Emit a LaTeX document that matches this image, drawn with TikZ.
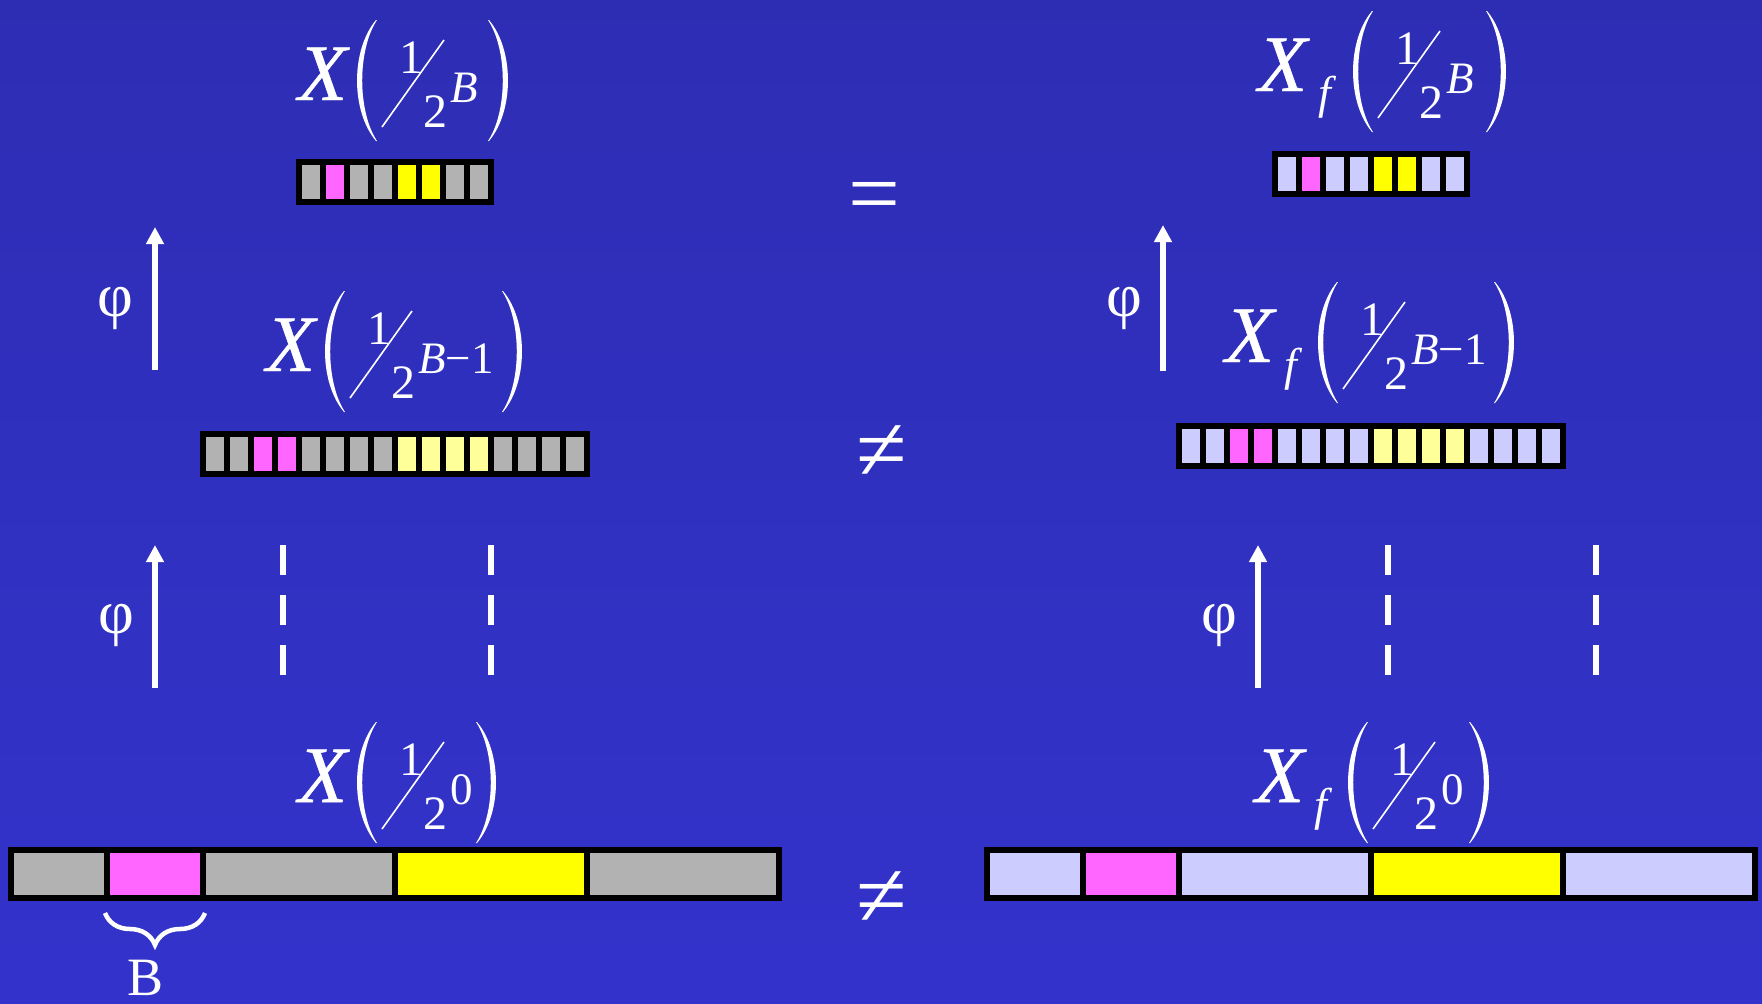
\documentclass[tikz,border=0pt]{standalone}
\usepackage{fontspec}
\setmainfont{Liberation Serif}
\usetikzlibrary{arrows.meta,decorations.pathreplacing,calc}
\definecolor{bgtop}{RGB}{45,45,180}
\definecolor{bgbot}{RGB}{51,51,204}
\definecolor{cgray}{RGB}{178,178,178}
\definecolor{cpink}{RGB}{255,102,255}
\definecolor{cyel}{RGB}{255,255,0}
\definecolor{clyel}{RGB}{255,255,153}
\definecolor{clav}{RGB}{204,204,255}
\tikzset{
  fx/.style={text=white, inner sep=0pt, font=\fontsize{80}{82}\selectfont\itshape\addfontfeatures{FakeBold=0.6}},
  fs/.style={text=white, inner sep=0pt, font=\fontsize{48}{50}\selectfont},
  fe/.style={text=white, inner sep=0pt, font=\fontsize{45}{47}\selectfont},
  fsi/.style={text=white, inner sep=0pt, font=\fontsize{46}{48}\selectfont\itshape},
  lbl/.style={text=white, inner sep=0pt, font=\fontsize{54}{56}\selectfont},
  philbl/.style={text=white, inner sep=0pt, font=\fontsize{62}{64}\selectfont},
  rel/.style={text=white, inner sep=0pt, font=\fontsize{92}{94}\selectfont},
  uparrow/.style={draw=white, line width=6pt, -{Triangle[length=17pt,width=17pt]}},
  dashline/.style={draw=white, line width=6pt, dash pattern=on 30pt off 20pt},
  slashline/.style={draw=white, line width=1.6pt},
  barbox/.style={fill=black, inner sep=0pt, outer sep=0pt, anchor=north west},
  bracestyle/.style={draw=white, line width=4.5pt, decorate, decoration={brace, amplitude=32pt}},
}
% unit bar: name, x, y, n, colours
\newcommand{\unitbar}[5]{%
  \node[barbox, minimum width={#4*24+6}, minimum height=46] (#1) at (#2,#3) {};
  \foreach \cc [count=\ii from 0] in {#5}
    \fill[\cc] ({#2+6+\ii*24},{#3+6}) rectangle ({#2+(\ii+1)*24},{#3+40});
}
% big bar: name, x, y, base colour
\newcommand{\bigbar}[4]{%
  \node[barbox, minimum width=774, minimum height=54] (#1) at (#2,#3) {};
  \foreach \ss/\ww/\cc in {0/1/#4,1/1/cpink,2/2/#4,4/2/cyel,6/2/#4}
    \fill[\cc] ({#2+6+\ss*96},{#3+6}) rectangle ({#2+(\ss+\ww)*96},{#3+48});
}
% formula: name, x, y (baseline), shift, exponent, right paren offset
\newcommand{\fracformula}[6]{%
  \begin{scope}[shift={(#2,#3)}]
    \node[fx, anchor=base west] (#1X) at (3,0) {X};
    \begin{scope}[shift={(#4,0)}]
      \fill[white] (81,-80) .. controls (55.7,-50) and (55.7,11) .. (81,41) -- (82,41)
        .. controls (62.3,11) and (62.3,-50) .. (82,-80) -- cycle;
      \node[fs, anchor=base] (#1num) at (116,-27) {1};
      \coordinate (#1sa) at (87,27);
      \coordinate (#1sb) at (149,-60);
      \draw[slashline] (#1sa) -- (#1sb);
      \node[fs, anchor=base] (#1den) at (140.5,27) {2};
      \node[fe, anchor=base west] (#1exp) at (155,2) {#5};
      \fill[white] (#6,-80) .. controls ({#6+25.3},-50) and ({#6+25.3},11) .. (#6,41) -- ({#6-1},41)
        .. controls ({#6+18.7},11) and ({#6+18.7},-50) .. ({#6-1},-80) -- cycle;
    \end{scope}
  \end{scope}}
\begin{document}
\begin{tikzpicture}[x=1pt,y=-1pt]
\useasboundingbox (0,0) rectangle (1762,1004);
\shade[top color=bgtop,bottom color=bgbot] (0,0) rectangle (1762,1004);

% formulas
\fracformula{TL}{295}{100}{0}{\textit{B}}{194}
\fracformula{TR}{1255}{91}{36}{\textit{B}}{196}
\node[fsi, anchor=base west] (TRf) at (1318,108) {f};
\fracformula{ML}{263}{371}{0}{\textit{B}−1}{240}
\fracformula{MR}{1222}{362}{34}{\textit{B}−1}{239}
\node[fsi, anchor=base west] (MRf) at (1284,380) {f};
\fracformula{BL}{295}{802}{0}{0}{182}
\fracformula{BR}{1252}{802}{34}{0}{184}
\node[fsi, anchor=base west] (BRf) at (1314,820) {f};

% bars
\unitbar{barTL}{296}{159}{8}{cgray,cpink,cgray,cgray,cyel,cyel,cgray,cgray}
\unitbar{barTR}{1272}{151}{8}{clav,cpink,clav,clav,cyel,cyel,clav,clav}
\unitbar{barML}{200}{431}{16}{cgray,cgray,cpink,cpink,cgray,cgray,cgray,cgray,clyel,clyel,clyel,clyel,cgray,cgray,cgray,cgray}
\unitbar{barMR}{1176}{423}{16}{clav,clav,cpink,cpink,clav,clav,clav,clav,clyel,clyel,clyel,clyel,clav,clav,clav,clav}
\bigbar{barBL}{8}{847}{cgray}
\bigbar{barBR}{984}{847}{clav}

% relations
\node[rel, anchor=base] (eqTop) at (874,224) {=};
\node[rel, anchor=base] (neqMid) at (882,480) {≠};
\node[rel, anchor=base] (neqBot) at (882,926) {≠};

% phi arrows
\coordinate (aL1s) at (155,370); \coordinate (aL1e) at (155,227);
\coordinate (aR1s) at (1163,371); \coordinate (aR1e) at (1163,225);
\coordinate (aL2s) at (155,688); \coordinate (aL2e) at (155,545);
\coordinate (aR2s) at (1258,688); \coordinate (aR2e) at (1258,545);
\draw[uparrow] (aL1s) -- (aL1e);
\draw[uparrow] (aR1s) -- (aR1e);
\draw[uparrow] (aL2s) -- (aL2e);
\draw[uparrow] (aR2s) -- (aR2e);
\node[philbl, anchor=base] (phiL1) at (115,316) {φ};
\node[philbl, anchor=base] (phiR1) at (1124,316) {φ};
\node[philbl, anchor=base] (phiL2) at (116,633) {φ};
\node[philbl, anchor=base] (phiR2) at (1219,633) {φ};

% dotted continuation
\coordinate (dL1s) at (283,545); \coordinate (dL1e) at (283,675);
\coordinate (dL2s) at (491,545); \coordinate (dL2e) at (491,675);
\coordinate (dR1s) at (1388,545); \coordinate (dR1e) at (1388,675);
\coordinate (dR2s) at (1596,545); \coordinate (dR2e) at (1596,675);
\draw[dashline] (dL1s) -- (dL1e);
\draw[dashline] (dL2s) -- (dL2e);
\draw[dashline] (dR1s) -- (dR1e);
\draw[dashline] (dR2s) -- (dR2e);

% brace and B
\coordinate (brR) at (205,913);
\coordinate (brL) at (105,913);
\draw[bracestyle] (brR) -- (brL);
\node[lbl, anchor=base] (Blabel) at (146,995) {B};
\end{tikzpicture}
\end{document}
